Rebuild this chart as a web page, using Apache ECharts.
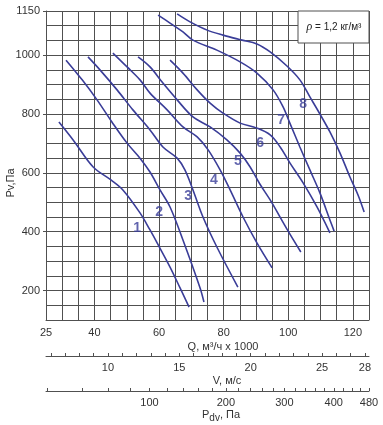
<!DOCTYPE html>
<html><head><meta charset="utf-8">
<script src="https://cdn.jsdelivr.net/npm/echarts@6/dist/echarts.min.js"></script>
<style>html,body{margin:0;padding:0;background:#fff}#c{width:383px;height:425px}</style>
</head><body><div id="c"></div>
<script>
// Q in 1000 m³/h, Pv in Pa
const curve1 = [[29.0,773],[33.4,712],[39.6,620],[45.1,576],[48.8,542],[54.1,464],[57.2,406],[59.4,362],[63.4,280],[66.5,209],[69.3,144]];
const curve2 = [[31.2,983],[36.2,916],[40.8,848],[45.4,773],[50.1,701],[54.1,650],[57.2,603],[60.3,542],[63.4,484],[67.4,372],[72.7,209],[73.9,161]];
const curve3 = [[38.0,994],[41.7,950],[47.0,882],[51.9,814],[57.2,746],[61.2,688],[65.6,650],[68.0,610],[70.5,542],[73.6,450],[77.9,348],[84.4,212]];
const curve4 = [[45.7,1007],[50.1,960],[54.1,916],[57.2,871],[62.5,814],[67.4,756],[71.8,722],[75.2,678],[78.9,610],[82.0,542],[86.0,450],[90.3,362],[95.0,277]];
const curve5 = [[53.5,994],[57.2,960],[61.2,905],[65.6,848],[70.5,790],[75.8,756],[81.0,712],[85.1,667],[88.2,620],[91.2,562],[94.4,508],[99.6,409],[103.9,331]];
const curve6 = [[63.4,983],[67.4,939],[71.8,882],[75.8,837],[79.8,803],[85.1,769],[90.3,752],[94.4,729],[97.5,688],[100.5,634],[104.6,566],[108.9,484],[112.9,396]];
const curve7 = [[59.7,1136],[63.4,1109],[67.4,1079],[70.5,1051],[77.9,1017],[85.1,977],[90.3,939],[95.3,882],[98.4,824],[100.5,769],[103.6,688],[106.7,610],[109.8,532],[112.9,440],[114.2,402]];
const curve8 = [[65.6,1140],[69.6,1113],[74.9,1085],[79.8,1068],[85.7,1051],[90.3,1038],[94.4,1011],[99.6,963],[103.6,916],[106.7,858],[109.8,800],[112.9,739],[116.0,668],[119.1,586],[121.6,525],[123.5,467]];
const curveNames = ['1','2','3','4','5','6','7','8'];
const curveLabelPos = [[53.2,413],[60.0,467],[69.0,521],[77.0,576],[84.4,640],[91.3,701],[97.8,780],[104.6,834]];

const qLabels = [25,40,60,80,100,120];
const yLabels = [200,400,600,800,1000,1150];
const vLabels = [10,15,20,25,28];
const vTicks = [6,7,8,9,10,11,12,13,14,15,16,17,18,19,20,21,22,23,24,25,26,27,28];
const pdvLabels = [100,200,300,400,480];
const pdvTicks = [20,40,60,80,100,120,140,160,180,200,220,240,260,280,300,320,340,360,380,400,420,440,460,480];

const K = 0.2263;   // V (m/s) per Q (1000 m³/h)
const RHO = 1.2;
const Q_MIN = 25, Q_MAX = 125;
const vOfPdv = p => Math.sqrt(2 * p / RHO);

const curves = [curve1,curve2,curve3,curve4,curve5,curve6,curve7,curve8];
const lineColor = '#3a3d98';
const gridColor = '#505050';
const font = "'Liberation Sans', Arial, sans-serif";

const chart = echarts.init(document.getElementById('c'), null, {renderer:'canvas'});
const series = curves.map((d, i) => ({
  type:'line', name: curveNames[i], data: d, smooth: 0.35, symbol:'none',
  lineStyle:{color: lineColor, width: 1.6}, xAxisIndex:0, yAxisIndex:0, z:3
}));
series.push({
  type:'scatter', symbolSize:0, xAxisIndex:0, yAxisIndex:0, z:4,
  data: curveLabelPos.map((p, i) => ({value: p, name: curveNames[i]})),
  label:{show:true, position:'inside', formatter: p => p.name, color: lineColor,
         fontWeight:'bold', fontSize:14, fontFamily: font}
});

const axisTxt = {color:'#333', fontSize:11, fontFamily: font};
chart.setOption({
  animation:false,
  grid:{left:46, right:14, top:11, bottom:105, containLabel:false},
  xAxis:[
    {type:'value', min:Q_MIN, max:Q_MAX, interval:5, position:'bottom',
     axisLine:{show:true, lineStyle:{color:gridColor, width:1}},
     axisTick:{show:false},
     splitLine:{show:true, lineStyle:{color:gridColor, width:1}},
     axisLabel:{...axisTxt, margin:7, formatter: v => qLabels.includes(v) ? String(v) : ''}},
    {type:'value', min:Q_MIN*K, max:Q_MAX*K, position:'bottom', offset:36,
     axisLine:{show:true, lineStyle:{color:gridColor, width:1}},
     axisTick:{show:true, inside:true, length:3, customValues: vTicks, lineStyle:{color:gridColor}},
     splitLine:{show:false},
     axisLabel:{...axisTxt, margin:6, customValues: vLabels, formatter: v => String(Math.round(v))}},
    {type:'value', min:Q_MIN*K, max:Q_MAX*K, position:'bottom', offset:71,
     axisLine:{show:true, lineStyle:{color:gridColor, width:1}},
     axisTick:{show:true, inside:true, length:3, customValues: pdvTicks.map(vOfPdv), lineStyle:{color:gridColor}},
     splitLine:{show:false},
     axisLabel:{...axisTxt, margin:6, customValues: pdvLabels.map(vOfPdv),
                formatter: v => String(Math.round(RHO/2*v*v))}}
  ],
  yAxis:[
    {type:'value', min:100, max:1150, interval:50,
     axisLine:{show:true, lineStyle:{color:gridColor, width:1}},
     axisTick:{show:false},
     splitLine:{show:true, lineStyle:{color:gridColor, width:1}},
     axisLabel:{...axisTxt, margin:6, formatter: v => yLabels.includes(v) ? String(v) : ''}},
    {type:'value', min:100, max:1150, position:'left',
     axisLine:{show:false}, splitLine:{show:false}, axisLabel:{show:false},
     axisTick:{show:true, length:3, customValues: yLabels, lineStyle:{color:gridColor}}}
  ],
  graphic:[
    {type:'rect', shape:{x:298, y:11, width:71, height:32}, z:10,
     style:{fill:'#fff', stroke:gridColor, lineWidth:1}},
    {type:'text', x:334, y:27, z:11,
     style:{text:'{i|ρ} = 1,2 кг/м³', align:'center', verticalAlign:'middle', fill:'#222',
            font:"10px 'Liberation Sans', Arial", rich:{i:{fontStyle:'italic', fontSize:12, fontFamily:"'Liberation Serif', serif"}}}},
    {type:'text', x:11, y:183, rotation:Math.PI/2,
     style:{text:'Pv,Па', align:'center', verticalAlign:'middle', fill:'#333', font:"11px 'Liberation Sans', Arial"}},
    {type:'text', x:223, y:347,
     style:{text:'Q, м³/ч x 1000', align:'center', verticalAlign:'middle', fill:'#333', font:"11px 'Liberation Sans', Arial"}},
    {type:'text', x:227, y:381,
     style:{text:'V, м/с', align:'center', verticalAlign:'middle', fill:'#333', font:"11px 'Liberation Sans', Arial"}},
    {type:'text', x:221, y:415,
     style:{text:'{a|P}{b|dv}{a|, Па}', align:'center', verticalAlign:'middle', fill:'#333',
            rich:{a:{fontSize:11, fontFamily:font, fill:'#333'}, b:{fontSize:10, fontFamily:font, fill:'#333', padding:[6,0,0,0]}}}}
  ],
  series
});
</script></body></html>
